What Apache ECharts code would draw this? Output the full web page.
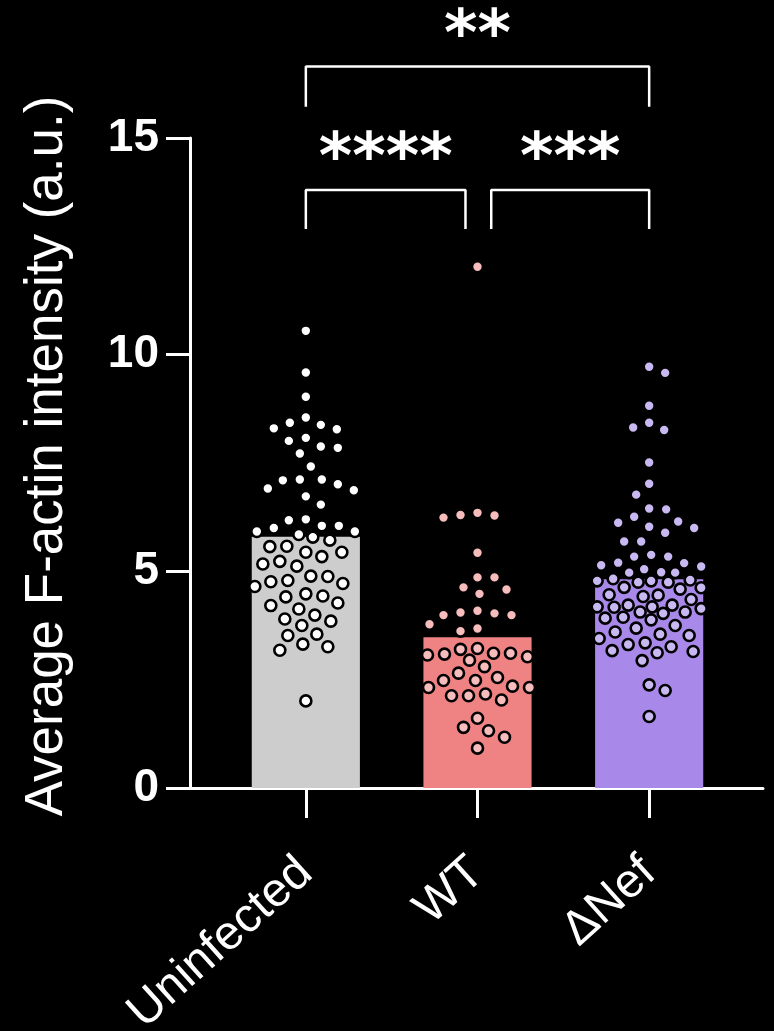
<!doctype html>
<html>
<head>
<meta charset="utf-8">
<title>F-actin</title>
<script src="https://cdn.jsdelivr.net/npm/echarts@6/dist/echarts.min.js"></script>
</head>
<body style="margin:0;padding:0;background:#000">
<div id="chart" style="width:774px;height:1031px;"></div>
<script>
// categories and bar heights (means)
var categories = ['Uninfected', 'WT', 'ΔNef'];
var barMeans = [5.80, 3.48, 4.82];

// single cell values per group
var uninfected = [10.55, 9.59, 9.03, 8.55, 8.30, 8.38, 8.28, 8.43, 8.08, 7.88, 7.72, 7.85, 8.01, 7.42,
  7.12, 6.91, 7.01, 7.12, 6.87, 7.10, 6.73, 6.54, 6.20, 6.18, 5.92, 6.05, 5.85, 5.92, 5.79, 6.05, 6.00,
  5.72, 5.58, 5.57, 5.44, 5.44, 5.34, 5.12, 5.17, 5.23, 4.88, 4.89, 4.72, 4.79, 4.76, 4.65, 4.48, 4.41,
  4.43, 4.27, 4.13, 4.21, 3.99, 3.85, 3.90, 3.75, 3.52, 3.55, 3.32, 3.18, 3.26, 2.01];
var wt = [12.03, 6.35, 6.29, 6.30, 6.24, 5.43, 4.86, 4.86, 4.58, 4.48, 4.63, 4.03, 4.09, 3.99, 4.05, 3.99,
  3.78, 3.68, 3.62, 3.22, 3.11, 2.95, 3.07, 3.03, 3.09, 3.11, 3.20, 2.80, 2.65, 2.55, 2.48, 2.48, 2.32,
  2.35, 2.32, 2.17, 2.13, 2.13, 2.03, 1.61, 1.32, 1.40, 1.17, 0.92];
var dNef = [9.72, 9.58, 8.82, 8.43, 8.26, 8.32, 7.51, 7.02, 6.77, 6.45, 6.43, 6.26, 6.12, 6.15, 6.03, 6.00,
  5.89, 5.69, 5.69, 5.38, 5.34, 5.34, 5.19, 5.11, 5.20, 5.14, 4.97, 4.97, 4.98, 5.05, 4.78, 4.75, 4.80,
  4.75, 4.83, 4.78, 4.62, 4.59, 4.46, 4.42, 4.63, 4.45, 4.35, 4.06, 4.17, 4.22, 4.22, 4.03, 4.06, 4.18,
  4.14, 4.18, 3.94, 3.92, 3.75, 3.69, 3.88, 3.55, 3.60, 3.35, 3.52, 3.45, 3.31, 3.15, 3.12, 2.94, 3.17,
  3.26, 2.38, 2.25, 1.65];

var yTicks = [0, 5, 10, 15];

// significance brackets: [from, to], label
var comparisons = [
  { pair: [0, 0.93], stars: '****' },
  { pair: [1.08, 2], stars: '***' },
  { pair: [0, 2], stars: '**' }
];

var barColors = ['#cdcdcd', '#ef8282', '#a888e8'];
var dotColors = ['#ffffff', '#f7bcbc', '#c9b9f2'];

// layout (pixels)
var GRID_BOTTOM = 243, AXIS_TOP = 138, DATA_TOP = 8;
var PX_Y = (1031 - GRID_BOTTOM - AXIS_TOP) / 15;   // px per unit on y
var PX_X = (735 - 220) / 3;                          // px per category
var DOT = 16.5, MAX_OFF = 52;

// simple beeswarm: offsets in pixels so dots don't overlap (as far as the width allows)
function swarm(vals) {
  var placed = [], out = [];
  var order = vals.map(function (v, i) { return i; }).sort(function (a, b) { return vals[b] - vals[a]; });
  order.forEach(function (i, n) {
    var y = vals[i] * PX_Y, best = 0, bestD = -1, done = false;
    for (var m = 0; m <= MAX_OFF && !done; m++) {
      var sides = n % 2 ? [1, -1] : [-1, 1];
      for (var k = 0; k < 2; k++) {
        var x = sides[k] * m, dmin = Infinity;
        placed.forEach(function (p) {
          var d = Math.hypot(p[0] - x, p[1] - y);
          if (d < dmin) dmin = d;
        });
        if (dmin >= DOT) { best = x; done = true; break; }
        if (dmin > bestD) { bestD = dmin; best = x; }
      }
    }
    placed.push([best, y]);
    out[i] = best;
  });
  return out;
}

var groups = [uninfected, wt, dNef];
var dotSeries = groups.map(function (vals, g) {
  var off = swarm(vals);
  return {
    type: 'scatter', xAxisIndex: 2, yAxisIndex: 1, z: 5,
    symbolSize: 11,
    itemStyle: { color: dotColors[g], borderColor: '#000', borderWidth: 2.6, opacity: 1 },
    data: vals.map(function (v, i) { return [g + off[i] / PX_X, v]; })
  };
});

// bracket geometry: lower pair at 12.9-13.8, the wide one at 15.72-16.65
var bracketLevels = [[12.9, 13.8], [12.9, 13.8], [15.72, 16.65]];
var starLevels = [14.79, 14.79, 17.63];

var bracketSeries = comparisons.map(function (c, i) {
  var lo = bracketLevels[i][0], hi = bracketLevels[i][1];
  return {
    type: 'line', xAxisIndex: 2, yAxisIndex: 1, symbol: 'none', z: 4,
    lineStyle: { color: '#fff', width: 2.5 },
    data: [[c.pair[0], lo], [c.pair[0], hi], [c.pair[1], hi], [c.pair[1], lo]]
  };
});

var starSeries = {
  type: 'scatter', xAxisIndex: 2, yAxisIndex: 1, symbolSize: 0, z: 6,
  itemStyle: { opacity: 1 },
  label: {
    show: true, position: 'inside', color: '#ffffff', opacity: 1, offset: [0, 14],
    fontFamily: 'DejaVu Sans', fontWeight: 'bold', fontSize: 64,
    formatter: function (p) { return p.data[2]; }
  },
  data: comparisons.map(function (c, i) {
    return [(c.pair[0] + c.pair[1]) / 2, starLevels[i], c.stars];
  })
};

var chart = echarts.init(document.getElementById('chart'));
chart.setOption({
  backgroundColor: '#000',
  animation: false,
  grid: [
    { left: 190, right: 11, top: AXIS_TOP, bottom: GRID_BOTTOM, outerBoundsMode: 'none', containLabel: false },
    { left: 220, right: 39, top: DATA_TOP, bottom: GRID_BOTTOM, outerBoundsMode: 'none', containLabel: false }
  ],
  xAxis: [
    { type: 'value', gridIndex: 0, min: 0, max: 1,
      axisLine: { show: true, lineStyle: { color: '#fff', width: 3 } },
      axisTick: { show: false }, axisLabel: { show: false }, splitLine: { show: false } },
    { type: 'category', gridIndex: 1, data: categories,
      axisLine: { show: false },
      axisTick: { show: true, alignWithLabel: true, length: 30, lineStyle: { color: '#fff', width: 3 } },
      axisLabel: { rotate: 42, margin: 78, color: '#fff', fontFamily: 'Liberation Sans', fontSize: 48 } },
    { type: 'value', gridIndex: 1, min: -0.5, max: 2.5, show: false }
  ],
  yAxis: [
    { type: 'value', gridIndex: 0, min: 0, max: 15, interval: 5,
      name: 'Average F-actin intensity (a.u.)', nameLocation: 'middle', nameGap: 116,
      nameTextStyle: { color: '#fff', fontFamily: 'Liberation Sans', fontSize: 53, padding: [0, 0, 0, 14] },
      axisLine: { show: true, lineStyle: { color: '#fff', width: 3 } },
      axisTick: { show: true, length: 24, lineStyle: { color: '#fff', width: 3 } },
      axisLabel: { color: '#fff', fontFamily: 'Liberation Sans', fontWeight: 'bold', fontSize: 46, margin: 31,
        formatter: function (v) { return yTicks.indexOf(v) >= 0 ? String(v) : ''; } },
      splitLine: { show: false } },
    { type: 'value', gridIndex: 1, min: 0, max: 18, show: false }
  ],
  series: [
    { type: 'bar', xAxisIndex: 1, yAxisIndex: 1, barWidth: '63%', z: 2,
      data: barMeans.map(function (v, i) { return { value: v, itemStyle: { color: barColors[i] } }; }) }
  ].concat(dotSeries, bracketSeries, [starSeries])
});
</script>
</body>
</html>
